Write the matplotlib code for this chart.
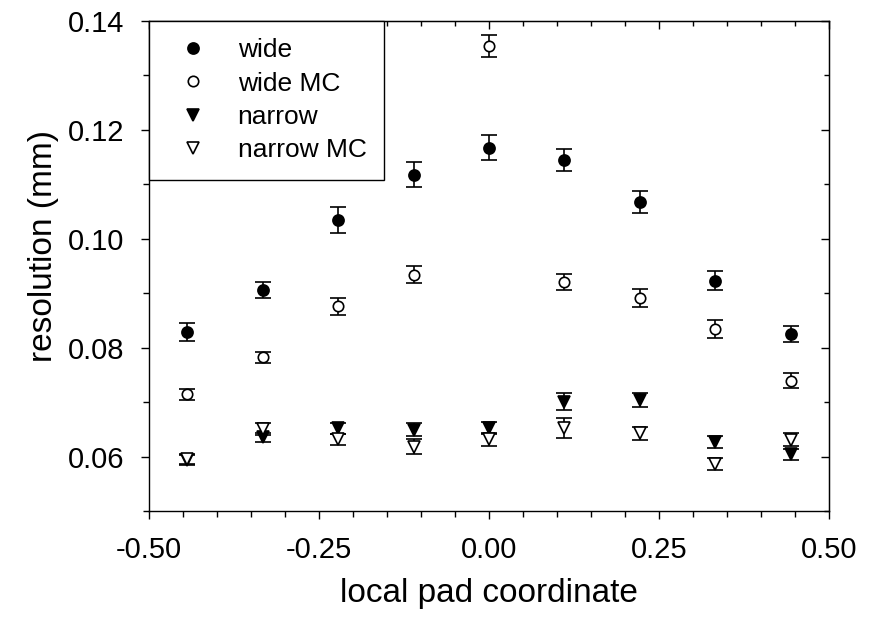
import matplotlib
matplotlib.use('Agg')
import matplotlib.pyplot as plt
from matplotlib.lines import Line2D
from matplotlib.ticker import MultipleLocator, FormatStrFormatter

plt.rcParams['font.family'] = ['Liberation Sans', 'DejaVu Sans']
plt.rcParams['axes.unicode_minus'] = False

# local pad coordinate of the bins
pad_x = [-0.444, -0.333, -0.222, -0.111, 0.0, 0.111, 0.222, 0.333, 0.444]

wide = [0.0829, 0.0906, 0.1035, 0.1118, 0.1167, 0.1144, 0.1068, 0.0923, 0.0825]
wide_err = [0.0017, 0.0014, 0.0024, 0.0023, 0.0023, 0.0020, 0.0020, 0.0018, 0.0014]
wide_mc = [0.0714, 0.0782, 0.0876, 0.0934, 0.1354, 0.0921, 0.0891, 0.0834, 0.0739]
wide_mc_err = [0.0010, 0.0010, 0.0016, 0.0016, 0.0021, 0.0015, 0.0016, 0.0016, 0.0014]

narrow = [0.0594, 0.0635, 0.0652, 0.0649, 0.0653, 0.0701, 0.0704, 0.0626, 0.0604]
narrow_err = [0.0009, 0.0008, 0.0010, 0.0012, 0.0011, 0.0016, 0.0013, 0.0011, 0.0010]
narrow_mc = [0.0595, 0.0651, 0.0632, 0.0618, 0.0632, 0.0652, 0.0643, 0.0586, 0.0631]
narrow_mc_err = [0.0009, 0.0011, 0.0010, 0.0014, 0.0012, 0.0018, 0.0012, 0.0011, 0.0012]

labels = ['wide', 'wide MC', 'narrow', 'narrow MC']

fig = plt.figure(figsize=(8.74, 6.22), dpi=100)
ax = fig.add_axes([0.1705, 0.1785, 0.778, 0.7877])

eb = dict(capsize=5.5, elinewidth=1.2, capthick=1.2, mew=1.2, ecolor='black', ls='none')
ax.errorbar(pad_x, wide, yerr=wide_err, marker='o', ms=8, mfc='black', mec='black', **eb)
ax.errorbar(pad_x, wide_mc, yerr=wide_mc_err, marker='o', ms=7.5, mfc='white', mec='black', **eb)
ax.errorbar(pad_x, narrow, yerr=narrow_err, marker='v', ms=8.5, mfc='black', mec='black', **eb)
ax.errorbar(pad_x, narrow_mc, yerr=narrow_mc_err, marker='v', ms=8.5, mfc='white', mec='black', **eb)

ax.set_xlim(-0.5, 0.5)
ax.set_ylim(0.05, 0.14)
ax.set_xticks([-0.5, -0.25, 0.0, 0.25, 0.5])
ax.set_yticks([0.06, 0.08, 0.10, 0.12, 0.14])
ax.xaxis.set_major_formatter(FormatStrFormatter('%.2f'))
ax.yaxis.set_major_formatter(FormatStrFormatter('%.2f'))
ax.xaxis.set_minor_locator(MultipleLocator(0.05))
ax.yaxis.set_minor_locator(MultipleLocator(0.01))
ax.tick_params(which='both', direction='out', top=False, right=False, width=1, labelsize=21)
ax.tick_params(which='major', length=6)
ax.tick_params(which='minor', length=4)
ax.tick_params(axis='x', pad=12)
ax.tick_params(axis='y', pad=12)
for s in ax.spines.values():
    s.set_linewidth(1)

# top and right ticks point inwards
top = ax.secondary_xaxis('top')
top.set_xticks([-0.5, -0.25, 0.0, 0.25, 0.5])
top.xaxis.set_minor_locator(MultipleLocator(0.05))
top.tick_params(which='both', direction='in', labeltop=False, width=1)
top.tick_params(which='major', length=6)
top.tick_params(which='minor', length=3.5)
right = ax.secondary_yaxis('right')
right.set_yticks([0.06, 0.08, 0.10, 0.12, 0.14])
right.yaxis.set_minor_locator(MultipleLocator(0.01))
right.tick_params(which='both', direction='in', labelright=False, width=1)
right.tick_params(which='major', length=6)
right.tick_params(which='minor', length=3.5)

ax.set_xlabel('local pad coordinate', fontsize=24, labelpad=10)
ax.set_ylabel('resolution (mm)', fontsize=24)
ax.yaxis.set_label_coords(-0.133, 0.54)

handles = [
    Line2D([], [], ls='none', marker='o', ms=8, mfc='black', mec='black', mew=1.2),
    Line2D([], [], ls='none', marker='o', ms=7.5, mfc='white', mec='black', mew=1.2),
    Line2D([], [], ls='none', marker='v', ms=8.5, mfc='black', mec='black', mew=1.2),
    Line2D([], [], ls='none', marker='v', ms=8.5, mfc='white', mec='black', mew=1.2),
]
leg = ax.legend(handles, labels, loc='upper left', bbox_to_anchor=(0, 1),
                borderaxespad=0, fancybox=False, edgecolor='black', framealpha=1,
                fontsize=19, handlelength=2.0, handletextpad=0.7, borderpad=0.66,
                labelspacing=0.35)
leg.get_frame().set_linewidth(1)

fig.savefig('out.png', dpi=100)
